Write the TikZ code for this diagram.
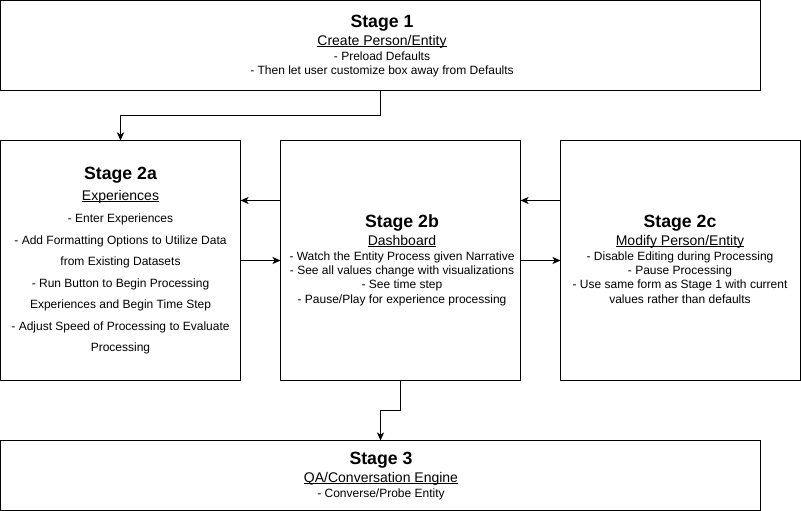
\documentclass[tikz,border=0pt]{standalone}
\usepackage{fontspec}
\setmainfont{Liberation Sans}
\usetikzlibrary{arrows.meta}
\newcommand\myul[1]{\setbox0\hbox{#1}\rlap{\rule[-1.6pt]{\wd0}{0.9pt}}\box0}
\tikzset{
  box/.style={draw=black, line width=1pt, rectangle, inner sep=0pt, outer sep=0pt, fill=white},
  ttl/.style={anchor=base, inner sep=0pt, font=\fontsize{17.7}{20}\selectfont\bfseries},
  sub/.style={anchor=base, inner sep=0pt, font=\fontsize{14}{16}\selectfont},
  txt/.style={anchor=base, inner sep=0pt, font=\fontsize{12}{14}\selectfont},
  arr/.style={draw=black, line width=1pt, -{Stealth[length=8pt,width=7pt,inset=2pt]}}
}
\begin{document}
\begin{tikzpicture}[x=1pt,y=-1pt]
\useasboundingbox[fill=white] (0,0) rectangle (801,511);
% boxes
\node[box, minimum width=760pt, minimum height=90pt] (s1) at (380.5,45.5) {};
\node[box, minimum width=240pt, minimum height=240pt] (s2a) at (120.5,260.5) {};
\node[box, minimum width=240pt, minimum height=240pt] (s2b) at (400.5,260.5) {};
\node[box, minimum width=240pt, minimum height=240pt] (s2c) at (680.5,260.5) {};
\node[box, minimum width=760pt, minimum height=70pt] (s3) at (380.5,475.5) {};
% stage 1 text
\node[ttl] (s1t) at (382,28) {Stage 1};
\node[sub] (s1s) at (382,45.5) {\myul{Create Person/Entity}};
\node[txt] (s1a) at (382,61) {- Preload Defaults};
\node[txt] (s1b) at (382,75) {- Then let user customize box away from Defaults};
% stage 2a text
\node[ttl] (s2at) at (120.5,179) {Stage 2a};
\node[sub] (s2as) at (120.5,200.5) {\myul{Experiences}};
\node[txt] (s2a1) at (120.5,222.5) {- Enter Experiences};
\node[txt] (s2a2) at (120.5,244) {- Add Formatting Options to Utilize Data};
\node[txt] (s2a3) at (120.5,265.5) {from Existing Datasets};
\node[txt] (s2a4) at (120.5,287) {- Run Button to Begin Processing};
\node[txt] (s2a5) at (120.5,308.5) {Experiences and Begin Time Step};
\node[txt] (s2a6) at (120.5,330) {- Adjust Speed of Processing to Evaluate};
\node[txt] (s2a7) at (120.5,351.5) {Processing};
% stage 2b text
\node[ttl] (s2bt) at (402,227.5) {Stage 2b};
\node[sub] (s2bs) at (402,245) {\myul{Dashboard}};
\node[txt] (s2b1) at (402,260.5) {- Watch the Entity Process given Narrative};
\node[txt] (s2b2) at (402,274.5) {- See all values change with visualizations};
\node[txt] (s2b3) at (402,288.5) {- See time step};
\node[txt] (s2b4) at (402,303) {- Pause/Play for experience processing};
% stage 2c text
\node[ttl] (s2ct) at (680,227.5) {Stage 2c};
\node[sub] (s2cs) at (680,245) {\myul{Modify Person/Entity}};
\node[txt] (s2c1) at (680,260.5) {- Disable Editing during Processing};
\node[txt] (s2c2) at (680,274.5) {- Pause Processing};
\node[txt] (s2c3) at (680,288.5) {- Use same form as Stage 1 with current};
\node[txt] (s2c4) at (680,303) {values rather than defaults};
% stage 3 text
\node[ttl] (s3t) at (381,464) {Stage 3};
\node[sub] (s3s) at (381,482.5) {\myul{QA/Conversation Engine}};
\node[txt] (s3a) at (381,497) {- Converse/Probe Entity};
% connectors
\draw[arr] (s1.south) -- ++(0,25) -| (s2a.north);
\draw[arr] ([yshift=60pt]s2b.west) -- ([yshift=60pt]s2a.east);
\draw[arr] (s2a.east) -- (s2b.west);
\draw[arr] ([yshift=60pt]s2c.west) -- ([yshift=60pt]s2b.east);
\draw[arr] (s2b.east) -- (s2c.west);
\draw[arr] (s2b.south) -- ++(0,30) -| (s3.north);
\end{tikzpicture}
\end{document}
